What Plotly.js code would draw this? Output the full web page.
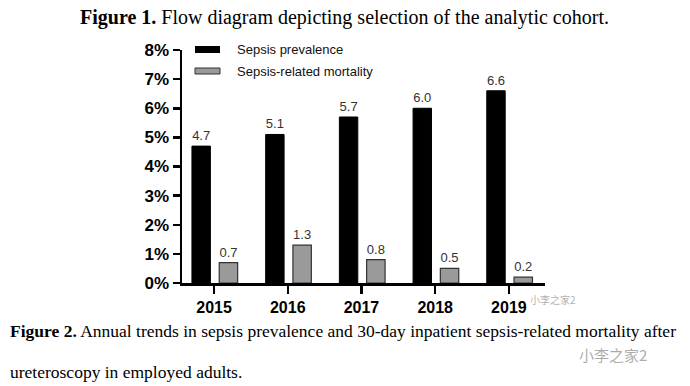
<!DOCTYPE html>
<html>
<head>
<meta charset="utf-8">
<script src="https://cdn.plot.ly/plotly-3.0.1.min.js"></script>
<style>html,body{margin:0;padding:0;background:#fff;}#chart{width:690px;height:386px;}</style>
</head>
<body>
<div id="chart"></div>
<script>
var years = ['2015', '2016', '2017', '2018', '2019'];
var prevalence = [4.7, 5.1, 5.7, 6.0, 6.6];
var mortality = [0.7, 1.3, 0.8, 0.5, 0.2];
var seriesNames = ['Sepsis prevalence', 'Sepsis-related mortality'];
var yTickVals = [0, 1, 2, 3, 4, 5, 6, 7, 8];
var yTickText = ['0%', '1%', '2%', '3%', '4%', '5%', '6%', '7%', '8%'];

var traces = [
  {
    type: 'bar', name: seriesNames[0], x: years, y: prevalence,
    width: 0.25, offset: -0.30,
    marker: {color: '#000000', line: {color: '#000000', width: 1}},
    text: prevalence.map(function(v){return v.toFixed(1);}),
    textposition: 'outside', cliponaxis: false,
    textfont: {family: 'Liberation Sans, Arial, sans-serif', size: 13, color: '#333'},
    showlegend: false, hoverinfo: 'x+y'
  },
  {
    type: 'bar', name: seriesNames[1], x: years, y: mortality,
    width: 0.25, offset: 0.07,
    marker: {color: '#9a9a9a', line: {color: '#333333', width: 1.2}},
    text: mortality.map(function(v){return v.toFixed(1);}),
    textposition: 'outside', cliponaxis: false,
    textfont: {family: 'Liberation Sans, Arial, sans-serif', size: 13, color: '#333'},
    showlegend: false, hoverinfo: 'x+y'
  }
];

var serif = 'Liberation Serif, Times New Roman, serif';
var layout = {
  width: 690, height: 386,
  margin: {l: 182, r: 145, t: 50, b: 103},
  paper_bgcolor: '#fff', plot_bgcolor: '#fff',
  barmode: 'overlay',
  showlegend: false,
  xaxis: {
    type: 'category', range: [-0.435, 4.49],
    showline: true, linecolor: '#000', linewidth: 2.5,
    ticks: 'outside', ticklen: 8, tickwidth: 2.5, tickcolor: '#000',
    showgrid: false, zeroline: false,
    tickfont: {family: 'Liberation Sans, Arial, sans-serif', size: 16, color: '#000', weight: 'bold'}
  },
  yaxis: {
    range: [0, 8], tickvals: yTickVals, ticktext: yTickText,
    showline: true, linecolor: '#000', linewidth: 2.5,
    ticks: 'outside', ticklen: 7, tickwidth: 2.5, tickcolor: '#000',
    showgrid: false, zeroline: false,
    tickfont: {family: 'Liberation Sans, Arial, sans-serif', size: 17, color: '#000', weight: 'bold'}
  },
  shapes: [
    {type: 'rect', xref: 'paper', yref: 'paper', x0: (195-182)/363, x1: (220-182)/363,
     y0: (283-53)/233, y1: (283-46)/233, fillcolor: '#000', line: {width: 0}},
    {type: 'rect', xref: 'paper', yref: 'paper', x0: (195-182)/363, x1: (220-182)/363,
     y0: (283-74)/233, y1: (283-68)/233, fillcolor: '#9a9a9a', line: {color: '#333', width: 1}}
  ],
  annotations: [
    {text: seriesNames[0], xref: 'paper', yref: 'paper', x: (235-182)/363, y: (283-49.5)/233,
     xanchor: 'left', yanchor: 'middle', showarrow: false,
     font: {family: 'Liberation Sans, Arial, sans-serif', size: 13, color: '#111'}},
    {text: seriesNames[1], xref: 'paper', yref: 'paper', x: (235-182)/363, y: (283-71)/233,
     xanchor: 'left', yanchor: 'middle', showarrow: false,
     font: {family: 'Liberation Sans, Arial, sans-serif', size: 13, color: '#111'}},
    {text: '<b>Figure 1.</b> Flow diagram depicting selection of the analytic cohort.',
     xref: 'paper', yref: 'paper', x: (344-182)/363, y: (283-17)/233,
     xanchor: 'center', yanchor: 'middle', showarrow: false,
     font: {family: serif, size: 20, color: '#000'}},
    {text: '<b>Figure 2.</b> Annual trends in sepsis prevalence and 30-day inpatient sepsis-related mortality after',
     xref: 'paper', yref: 'paper', x: (8-182)/363, y: (283-331)/233,
     xanchor: 'left', yanchor: 'middle', showarrow: false,
     font: {family: serif, size: 17.5, color: '#000'}},
    {text: 'ureteroscopy in employed adults.',
     xref: 'paper', yref: 'paper', x: (8-182)/363, y: (283-372)/233,
     xanchor: 'left', yanchor: 'middle', showarrow: false,
     font: {family: serif, size: 17.5, color: '#000'}},
    {text: '小李之家2', xref: 'paper', yref: 'paper', x: (528-182)/363, y: (283-299)/233,
     xanchor: 'left', yanchor: 'middle', showarrow: false,
     font: {family: 'Noto Sans CJK SC, sans-serif', size: 10, color: 'rgba(120,120,120,0.6)'}},
    {text: '小李之家2', xref: 'paper', yref: 'paper', x: (577-182)/363, y: (283-354)/233,
     xanchor: 'left', yanchor: 'middle', showarrow: false,
     font: {family: 'Noto Sans CJK SC, sans-serif', size: 15, color: 'rgba(150,150,150,0.8)'}}
  ]
};

Plotly.newPlot('chart', traces, layout, {displayModeBar: false, staticPlot: true});
</script>
</body>
</html>
